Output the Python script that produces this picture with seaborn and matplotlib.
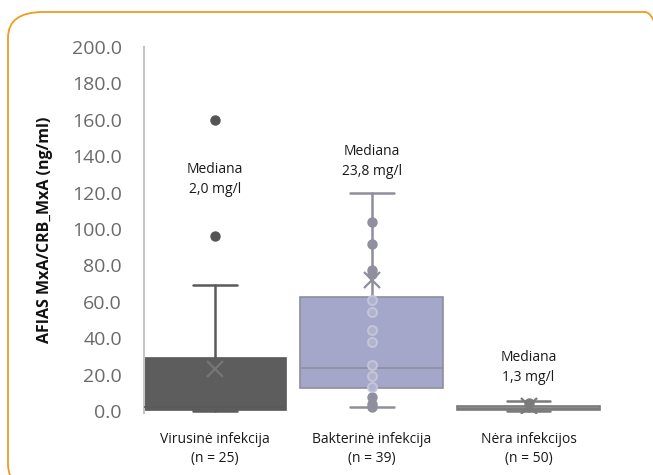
import numpy as np
import pandas as pd
import seaborn as sns
import matplotlib.pyplot as plt
from matplotlib.patches import FancyBboxPatch

# group labels
groups = ["Virusinė infekcija\n(n = 25)", "Bakterinė infekcija\n(n = 39)", "Nėra infekcijos\n(n = 50)"]
medians_txt = ["Mediana\n2,0 mg/l", "Mediana\n23,8 mg/l", "Mediana\n1,3 mg/l"]
txt_y = [127, 137, 24]

# box stats (ng/ml)
q1 = [0.4, 12.8, 0.6]
med = [2.0, 23.8, 1.3]
q3 = [29.0, 62.5, 2.8]
whislo = [0.0, 2.0, 0.2]
whishi = [69.0, 120.0, 5.5]
means = [23.0, 72.0, 2.6]

# single points
virus_pts = [160.0, 96.0]
bakt_pts = [104.0, 92.0, 77.5, 75.5, 61.0, 54.5, 44.5, 38.0, 25.3, 19.2, 13.0, 7.9, 3.8, 2.2]
nera_pts = [4.3]

fills = ["#5d5d5d", "#a4a7c9", "#8a8a8a"]
lines = ["#5a5a5a", "#8e8e9c", "#7a7a7a"]
mean_cols = ["#767676", "#8e8e9c", "#7a7a7a"]

sns.set_theme(style="white")
plt.rcParams["font.family"] = ["Open Sans", "DejaVu Sans"]

fig = plt.figure(figsize=(6.53, 4.75), dpi=100)
ax = fig.add_axes([144 / 653, 1 - 412.8 / 475, (607 - 144) / 653, (412.8 - 47) / 475])

stats = []
for i in range(3):
    stats.append(dict(q1=q1[i], med=med[i], q3=q3[i], whislo=whislo[i],
                      whishi=whishi[i], mean=means[i], fliers=[]))
bp = ax.bxp(stats, positions=[0, 1, 2], widths=0.91, patch_artist=True,
            showmeans=True, showfliers=False)
for i in range(3):
    bp["boxes"][i].set(facecolor=fills[i], edgecolor=lines[i], linewidth=1.2, zorder=2)
    bp["medians"][i].set(color=lines[i], linewidth=1.2, zorder=3)
    for w in bp["whiskers"][2 * i:2 * i + 2]:
        w.set(color=lines[i], linewidth=1.8, zorder=1)
    for c in bp["caps"][2 * i:2 * i + 2]:
        c.set(color=lines[i], linewidth=1.8, zorder=1)
    bp["means"][i].set(marker="x", markersize=11, markeredgecolor=mean_cols[i],
                       markeredgewidth=1.6, zorder=5)
for c in bp["caps"]:
    cx = c.get_xdata().mean()
    c.set_xdata([cx - 0.14, cx + 0.14])

# points
pts = pd.DataFrame({
    "grp": [0] * len(virus_pts) + [1] * len(bakt_pts) + [2] * len(nera_pts),
    "val": virus_pts + bakt_pts + nera_pts,
})
pts["inside"] = [(q1[g] <= v <= q3[g]) and g == 1 for g, v in zip(pts["grp"], pts["val"])]
outer = pts[~pts["inside"]]
inner = pts[pts["inside"]]
cols = {0: "#555555", 1: "#8f8f9d", 2: "#7a7a7a"}
for g in range(3):
    sub = outer[outer["grp"] == g]
    ax.scatter(sub["grp"], sub["val"], s=42, color=cols[g], edgecolor=cols[g], zorder=4)
ax.scatter(inner["grp"], inner["val"], s=42, facecolor="#b0b2cf",
           edgecolor="#c4c5d8", linewidth=1.4, zorder=4)

for i in range(3):
    ax.text(i, txt_y[i], medians_txt[i], ha="center", va="center",
            fontsize=10, color="#1a1a1a", linespacing=1.45)

ax.set_xlim(-0.45, 2.5)
ax.set_ylim(-1, 200)
ax.set_yticks(np.arange(0, 201, 20))
ax.set_yticklabels([f"{v:.1f}" for v in np.arange(0, 201, 20)])
ax.set_xticks([0, 1, 2])
ax.set_xticklabels(groups, fontsize=10, color="#1a1a1a", linespacing=1.35)
ax.tick_params(axis="y", length=0, pad=16, labelsize=14, labelcolor="#6a6a6a")
ax.tick_params(axis="x", length=0, pad=14)
for s in ["top", "right", "bottom"]:
    ax.spines[s].set_visible(False)
ax.spines["left"].set_color("#c4c4c4")
ax.spines["left"].set_linewidth(1.5)
ax.set_ylabel("AFIAS MxA/CRB_MxA (ng/ml)", fontsize=11.5, fontweight="bold",
              color="#111111")
ax.yaxis.set_label_coords(-0.197, 0.5)

# orange rounded frame
frame = FancyBboxPatch((8 / 653, 1 - 490 / 475), 672 / 653, 478 / 475,
                       boxstyle="round,pad=0,rounding_size=0.054",
                       transform=fig.transFigure, fill=False,
                       edgecolor="#f29a22", linewidth=1.3, clip_on=False)
fig.patches.append(frame)

plt.savefig("out.png", dpi=100)
